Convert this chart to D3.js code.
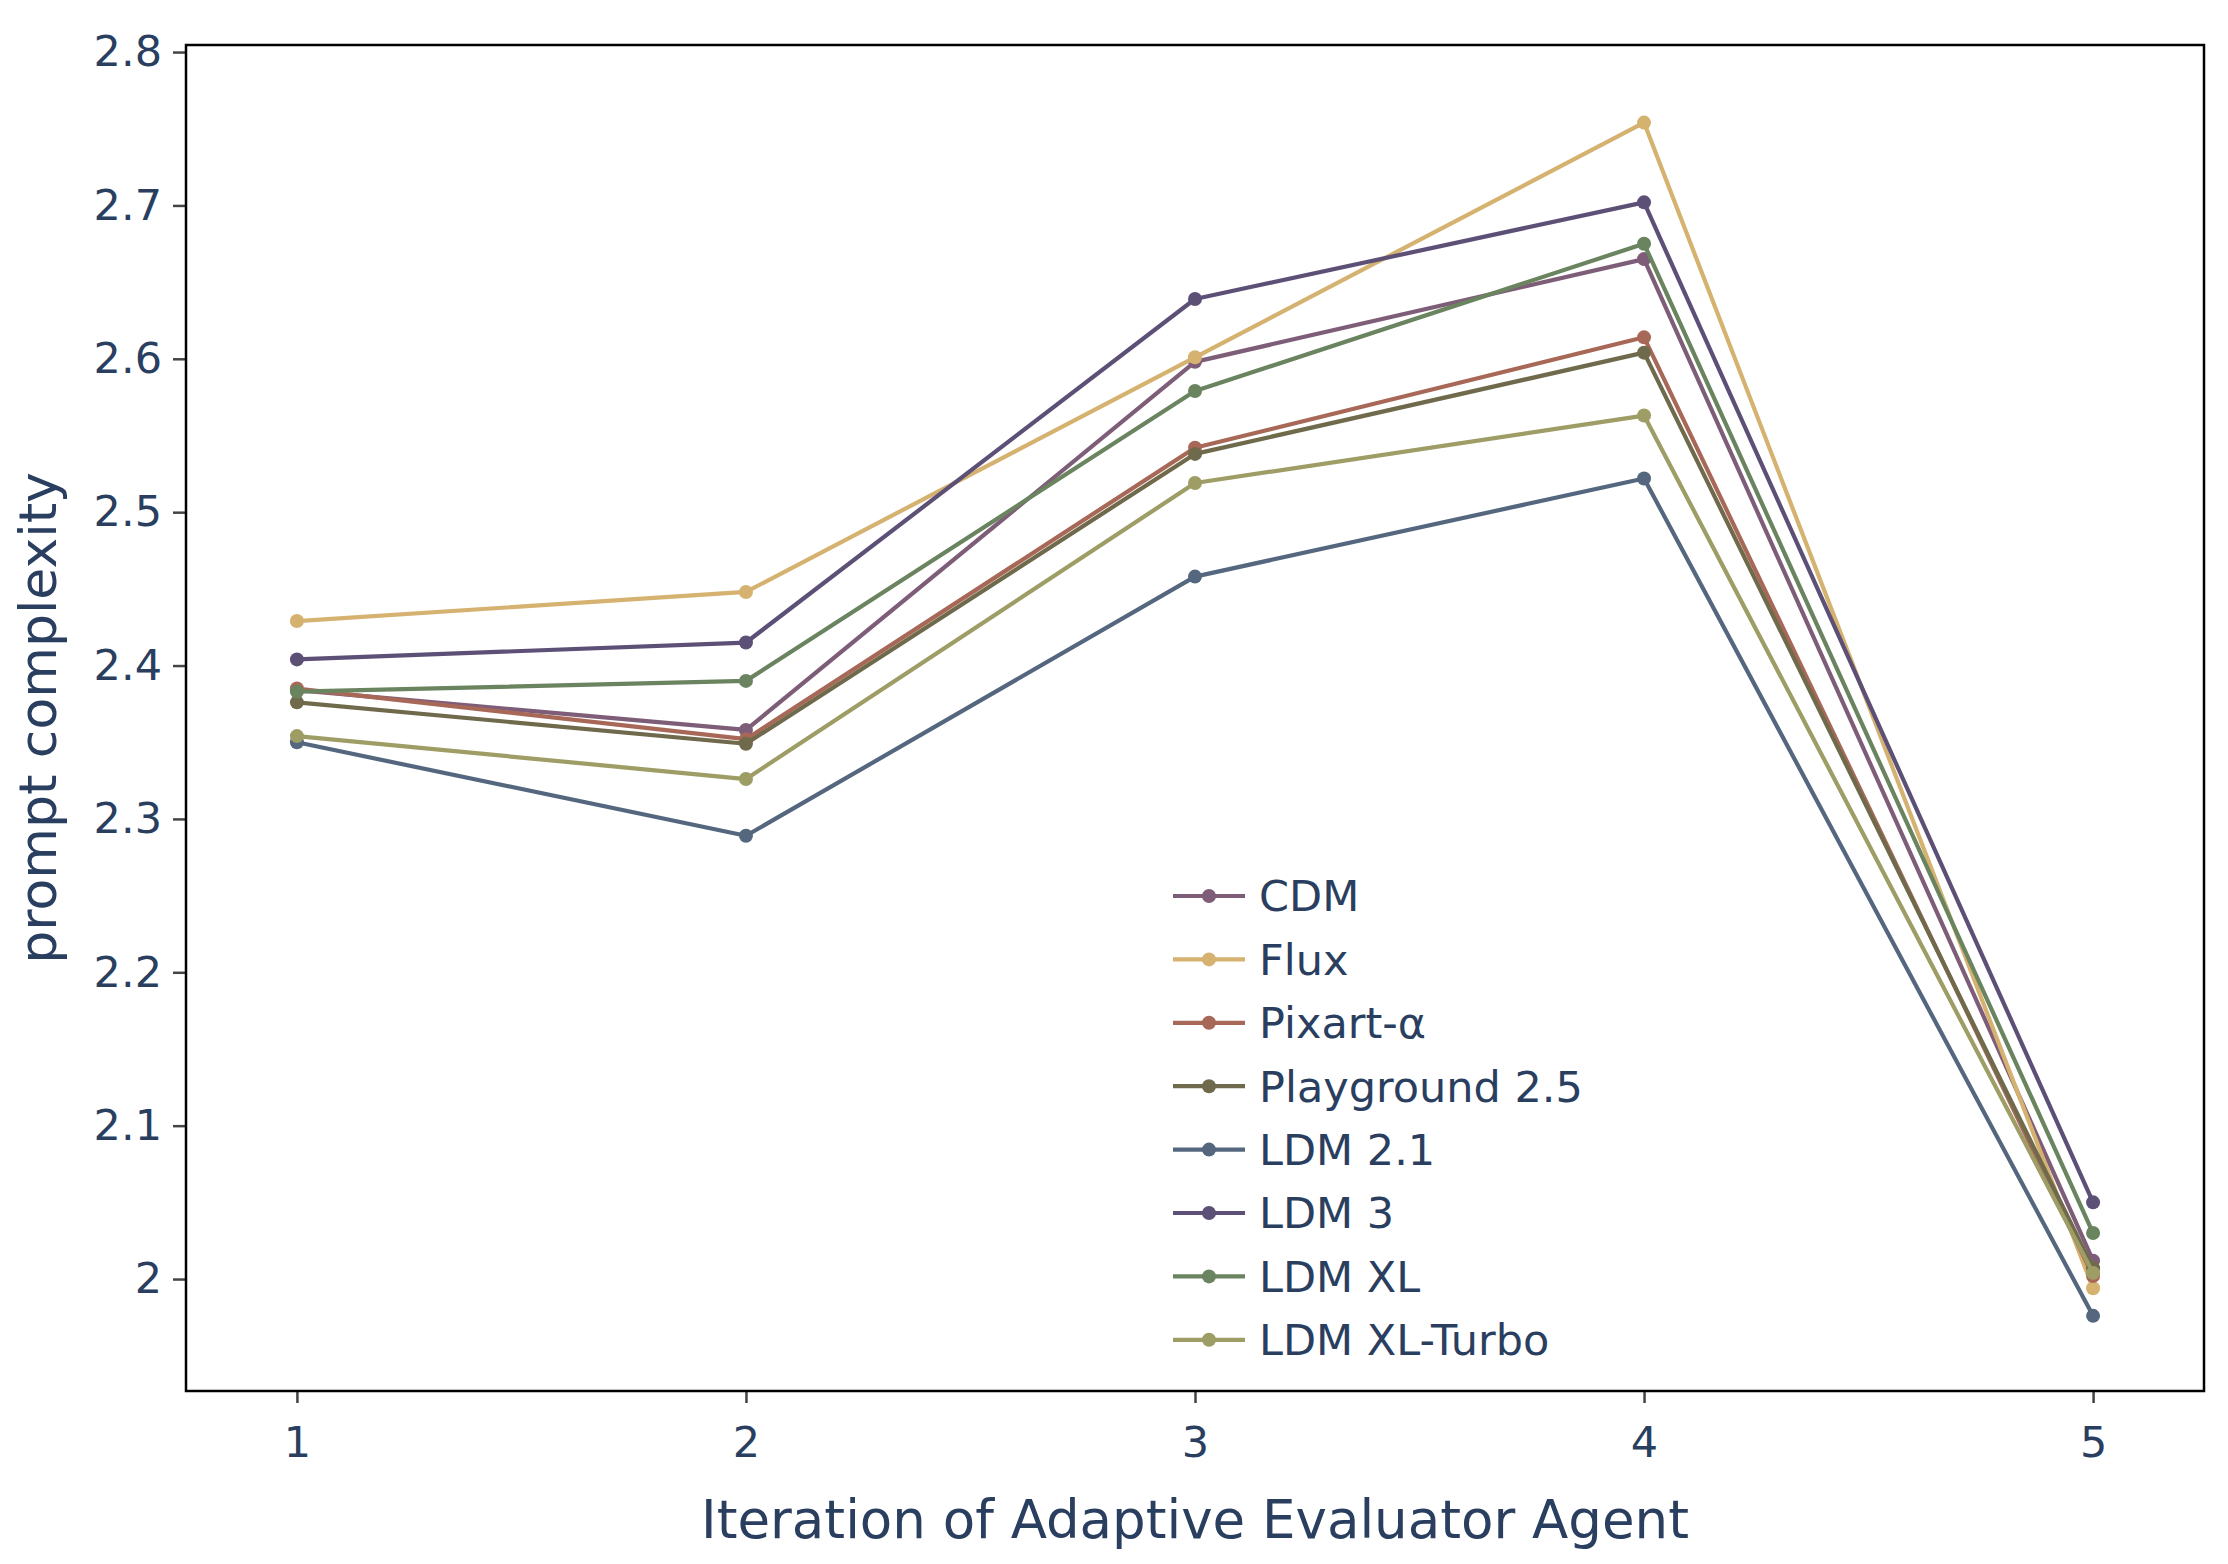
<!DOCTYPE html>
<html>
<head>
<meta charset="utf-8">
<script src="https://cdn.jsdelivr.net/npm/d3@7"></script>
<style>
  html, body { margin: 0; padding: 0; background: #ffffff; }
  svg { display: block; }
</style>
</head>
<body>
<svg id="chart" width="2228" height="1564"></svg>
<script>
// ---- data ----
const iterations = [1, 2, 3, 4, 5];
const seriesNames = ["CDM", "Flux", "Pixart-\u03b1", "Playground 2.5", "LDM 2.1", "LDM 3", "LDM XL", "LDM XL-Turbo"];
const seriesColors = ["#7e5d78", "#d5b270", "#a86858", "#6f6a4b", "#54677f", "#5d5077", "#6a8460", "#9d9d65"];
const cdmValues        = [2.384, 2.358, 2.598, 2.665, 2.012];
const fluxValues       = [2.429, 2.448, 2.601, 2.754, 1.994];
const pixartValues     = [2.385, 2.352, 2.542, 2.614, 2.002];
const playgroundValues = [2.376, 2.349, 2.538, 2.604, 2.007];
const ldm21Values      = [2.350, 2.289, 2.458, 2.522, 1.976];
const ldm3Values       = [2.404, 2.415, 2.639, 2.702, 2.050];
const ldmXLValues      = [2.383, 2.390, 2.579, 2.675, 2.030];
const ldmXLTurboValues = [2.354, 2.326, 2.519, 2.563, 2.004];
const yTickValues = [2.0, 2.1, 2.2, 2.3, 2.4, 2.5, 2.6, 2.7, 2.8];
const xTickValues = [1, 2, 3, 4, 5];
const xTitle = "Iteration of Adaptive Evaluator Agent";
const yTitle = "prompt complexity";

(function () {
const allValues = [cdmValues, fluxValues, pixartValues, playgroundValues, ldm21Values, ldm3Values, ldmXLValues, ldmXLTurboValues];
const series = seriesNames.map((name, i) => ({
  name, color: seriesColors[i],
  points: iterations.map((it, j) => ({ x: it, y: allValues[i][j] }))
}));

// ---- layout ----
const pLeft = 186, pRight = 2204, pTop = 45, pBottom = 1391;
const fontFamily = "'DejaVu Sans', Verdana, sans-serif";
const textColor = "#2a3f5f";

const svg = d3.select("#chart");
svg.append("rect").attr("width", 2228).attr("height", 1564).attr("fill", "#ffffff");

const x = d3.scaleLinear().domain([0.753, 5.247]).range([pLeft, pRight]);
const y = d3.scaleLinear().domain([1.927, 2.8046]).range([pBottom, pTop]);

// axes
const yAxis = d3.axisLeft(y).tickValues(yTickValues).tickSize(13).tickPadding(11)
  .tickFormat(d => Math.abs(d - 2) < 1e-9 ? "2" : d3.format(".1f")(d));
const xAxis = d3.axisBottom(x).tickValues(xTickValues).tickSize(12).tickPadding(23)
  .tickFormat(d3.format("d"));

const gy = svg.append("g").attr("transform", `translate(${pLeft},0)`).call(yAxis);
const gx = svg.append("g").attr("transform", `translate(0,${pBottom})`).call(xAxis);
[gx, gy].forEach(g => {
  g.select(".domain").remove();
  g.selectAll(".tick line").attr("stroke", "#444444").attr("stroke-width", 2.5);
  g.selectAll(".tick text").attr("fill", textColor).style("font-family", fontFamily).style("font-size", "43px");
});

// clip
svg.append("clipPath").attr("id", "plotclip").append("rect")
  .attr("x", pLeft).attr("y", pTop).attr("width", pRight - pLeft).attr("height", pBottom - pTop);

const line = d3.line().x(d => x(d.x)).y(d => y(d.y));
const plot = svg.append("g").attr("clip-path", "url(#plotclip)");
series.forEach(s => {
  const g = plot.append("g");
  g.append("path").datum(s.points).attr("d", line)
    .attr("fill", "none").attr("stroke", s.color).attr("stroke-width", 4.2)
    .attr("stroke-linejoin", "round");
  g.selectAll("circle").data(s.points).join("circle")
    .attr("cx", d => x(d.x)).attr("cy", d => y(d.y)).attr("r", 7)
    .attr("fill", s.color);
});

// frame
svg.append("rect").attr("x", pLeft).attr("y", pTop).attr("width", pRight - pLeft).attr("height", pBottom - pTop)
  .attr("fill", "none").attr("stroke", "#000000").attr("stroke-width", 2.5);

// axis titles
svg.append("text").attr("x", (pLeft + pRight) / 2).attr("y", 1538)
  .attr("text-anchor", "middle").attr("fill", textColor)
  .style("font-family", fontFamily).style("font-size", "53px").text(xTitle);
svg.append("text").attr("transform", `translate(56,${(pTop + pBottom) / 2}) rotate(-90)`)
  .attr("text-anchor", "middle").attr("fill", textColor)
  .style("font-family", fontFamily).style("font-size", "52px").text(yTitle);

// legend
const legendX = 1173, legendY0 = 896, legendStep = 63.4;
const lg = svg.append("g");
series.forEach((s, i) => {
  const yy = legendY0 + i * legendStep;
  lg.append("line").attr("x1", legendX).attr("x2", legendX + 72).attr("y1", yy).attr("y2", yy)
    .attr("stroke", s.color).attr("stroke-width", 4.2);
  lg.append("circle").attr("cx", legendX + 36).attr("cy", yy).attr("r", 7).attr("fill", s.color);
  lg.append("text").attr("x", 1259).attr("y", yy).attr("dy", "0.36em")
    .attr("fill", textColor).style("font-family", fontFamily).style("font-size", "43px").text(s.name);
});
})();
</script>
</body>
</html>
